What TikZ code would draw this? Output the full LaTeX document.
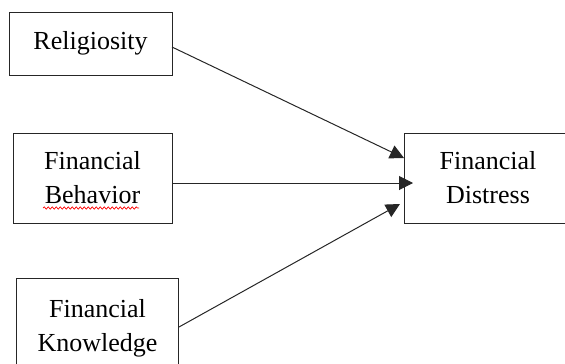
\documentclass[tikz,border=0pt]{standalone}
\usepackage{fontspec}
\setmainfont{Liberation Serif}
\usetikzlibrary{arrows.meta,decorations.pathmorphing}
\begin{document}
\begin{tikzpicture}[x=1pt,y=-1pt,
  box/.style={draw=black!85,line width=1pt,rectangle,align=center,
    font=\fontsize{26}{34}\selectfont,inner sep=0pt},
  link/.style={draw=black!85,line width=1pt,-{Triangle[length=14pt,width=14pt]}}]
\useasboundingbox (0,0) rectangle (565,364);
\clip (0,0) rectangle (565,364);
\node[box,minimum width=163,minimum height=63] (rel) at (90.5,43.5) {Religiosity};
\node[box,minimum width=159,minimum height=90] (beh) at (92.5,178) {Financial\\Behavior};
\node[box,minimum width=162,minimum height=100] (kno) at (97.5,328) {Financial\\Knowledge};
\node[box,minimum width=168,minimum height=90] (dis) at (488,178) {Financial\\Distress};
\coordinate (t1) at (404,158);
\coordinate (t2) at (413,183);
\coordinate (t3) at (400,204);
\draw[link] (172,47) -- (t1);
\draw[link] (beh.east |- t2) -- (t2);
\draw[link] (kno.east |- 0,327) -- (t3);
\draw[red,line width=0.7pt,decorate,
  decoration={snake,amplitude=1.2pt,segment length=4pt}] (43,208) -- (139,208);
\end{tikzpicture}
\end{document}
